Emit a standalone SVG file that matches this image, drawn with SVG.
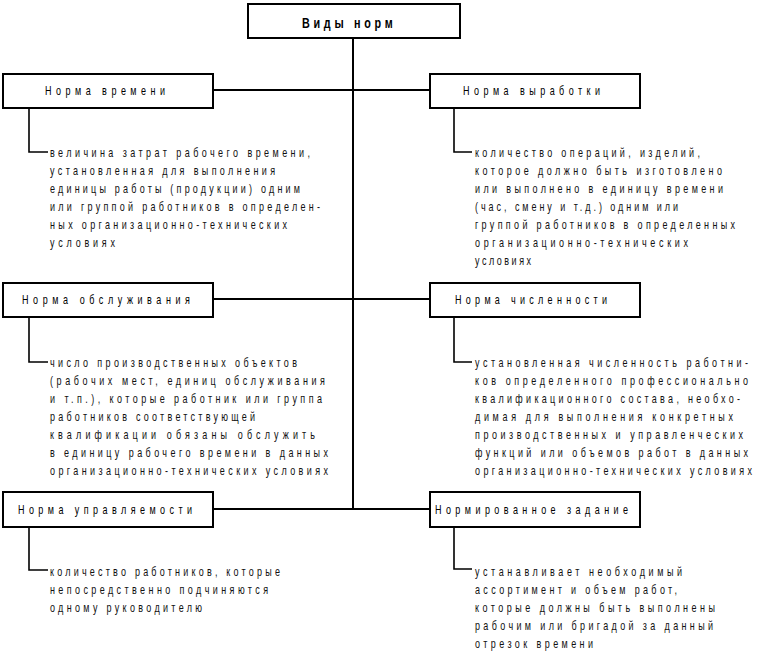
<svg xmlns="http://www.w3.org/2000/svg" width="763" height="655" viewBox="0 0 763 655">
<style>
.box{fill:#fff;stroke:#000;stroke-width:2}
.ln{fill:none;stroke:#000;stroke-width:2}
.cn{fill:none;stroke:#000;stroke-width:1.6}
text{font-family:"Liberation Sans Narrow","Liberation Sans",Arial,sans-serif;fill:#000}
.lbl{font-size:12.5px}
.body{font-size:12.5px;fill:#111}
.top{font-size:15px;font-weight:bold}
</style>
<rect width="763" height="655" fill="#fff"/>
<g id="connectors">
<path class="ln" d="M353,38 V509"/>
<path class="ln" d="M213,90 H430 M213,299 H430 M213,509 H430"/>
<path class="cn" d="M29,108 V152 H48"/>
<path class="cn" d="M454,108 V152 H472"/>
<path class="cn" d="M29,317 V362 H48"/>
<path class="cn" d="M454,317 V362 H472"/>
<path class="cn" d="M29,527 V570 H48"/>
<path class="cn" d="M454,527 V569 H472"/>
</g>
<g id="root">
<rect class="box" x="248" y="4" width="212" height="34"/>
<text class="top" transform="translate(302 28) scale(0.72 1)" textLength="126" lengthAdjust="spacing">Виды норм</text>
</g>
<g id="norma-vremeni">
<rect class="box" x="3" y="74" width="210" height="34"/>
<text class="lbl" transform="translate(45 95) scale(0.72 1)" textLength="166.7" lengthAdjust="spacing">Норма времени</text>
<text class="body" transform="translate(50 157) scale(0.72 1)" textLength="361.1" lengthAdjust="spacing">величина затрат рабочего времени,</text>
<text class="body" transform="translate(50 175) scale(0.72 1)" textLength="312.5" lengthAdjust="spacing">установленная для выполнения</text>
<text class="body" transform="translate(50 193) scale(0.72 1)" textLength="347.2" lengthAdjust="spacing">единицы работы (продукции) одним</text>
<text class="body" transform="translate(50 211) scale(0.72 1)" textLength="375" lengthAdjust="spacing">или группой работников в определен-</text>
<text class="body" transform="translate(50 229) scale(0.72 1)" textLength="329.2" lengthAdjust="spacing">ных организационно-технических</text>
<text class="body" transform="translate(50 247) scale(0.72 1)" textLength="90.3" lengthAdjust="spacing">условиях</text>
</g>
<g id="norma-vyrabotki">
<rect class="box" x="430" y="74" width="210" height="34"/>
<text class="lbl" transform="translate(463 95) scale(0.72 1)" textLength="190.3" lengthAdjust="spacing">Норма выработки</text>
<text class="body" transform="translate(475 157) scale(0.72 1)" textLength="312.5" lengthAdjust="spacing">количество операций, изделий,</text>
<text class="body" transform="translate(475 175) scale(0.72 1)" textLength="343.1" lengthAdjust="spacing">которое должно быть изготовлено</text>
<text class="body" transform="translate(475 193) scale(0.72 1)" textLength="344.4" lengthAdjust="spacing">или выполнено в единицу времени</text>
<text class="body" transform="translate(475 211) scale(0.72 1)" textLength="281.9" lengthAdjust="spacing">(час, смену и т.д.) одним или</text>
<text class="body" transform="translate(475 229) scale(0.72 1)" textLength="361.1" lengthAdjust="spacing">группой работников в определенных</text>
<text class="body" transform="translate(475 247) scale(0.72 1)" textLength="295.8" lengthAdjust="spacing">организационно-технических</text>
<text class="body" transform="translate(475 265) scale(0.72 1)" textLength="77.8" lengthAdjust="spacing">условиях</text>
</g>
<g id="norma-obsluzhivaniya">
<rect class="box" x="3" y="283" width="210" height="34"/>
<text class="lbl" transform="translate(22 304) scale(0.72 1)" textLength="233.3" lengthAdjust="spacing">Норма обслуживания</text>
<text class="body" transform="translate(50 367) scale(0.72 1)" textLength="343.1" lengthAdjust="spacing">число производственных объектов</text>
<text class="body" transform="translate(50 385) scale(0.72 1)" textLength="381.9" lengthAdjust="spacing">(рабочих мест, единиц обслуживания</text>
<text class="body" transform="translate(50 403) scale(0.72 1)" textLength="377.8" lengthAdjust="spacing">и т.п.), которые работник или группа</text>
<text class="body" transform="translate(50 421) scale(0.72 1)" textLength="284.7" lengthAdjust="spacing">работников соответствующей</text>
<text class="body" transform="translate(50 439) scale(0.72 1)" textLength="368.1" lengthAdjust="spacing">квалификации обязаны обслужить</text>
<text class="body" transform="translate(50 457) scale(0.72 1)" textLength="386.1" lengthAdjust="spacing">в единицу рабочего времени в данных</text>
<text class="body" transform="translate(50 475) scale(0.72 1)" textLength="386.1" lengthAdjust="spacing">организационно-технических условиях</text>
</g>
<g id="norma-chislennosti">
<rect class="box" x="430" y="283" width="210" height="34"/>
<text class="lbl" transform="translate(455 304) scale(0.72 1)" textLength="211.1" lengthAdjust="spacing">Норма численности</text>
<text class="body" transform="translate(475 367) scale(0.72 1)" textLength="379.2" lengthAdjust="spacing">установленная численность работни-</text>
<text class="body" transform="translate(475 385) scale(0.72 1)" textLength="379.2" lengthAdjust="spacing">ков определенного профессионально</text>
<text class="body" transform="translate(475 403) scale(0.72 1)" textLength="368.1" lengthAdjust="spacing">квалификационного состава, необхо-</text>
<text class="body" transform="translate(475 421) scale(0.72 1)" textLength="358.3" lengthAdjust="spacing">димая для выполнения конкретных</text>
<text class="body" transform="translate(475 439) scale(0.72 1)" textLength="372.2" lengthAdjust="spacing">производственных и управленческих</text>
<text class="body" transform="translate(475 457) scale(0.72 1)" textLength="379.2" lengthAdjust="spacing">функций или объемов работ в данных</text>
<text class="body" transform="translate(475 475) scale(0.72 1)" textLength="384.7" lengthAdjust="spacing">организационно-технических условиях</text>
</g>
<g id="norma-upravlyaemosti">
<rect class="box" x="3" y="492" width="210" height="35"/>
<text class="lbl" transform="translate(18 514) scale(0.72 1)" textLength="241.7" lengthAdjust="spacing">Норма управляемости</text>
<text class="body" transform="translate(50 576) scale(0.72 1)" textLength="319.4" lengthAdjust="spacing">количество работников, которые</text>
<text class="body" transform="translate(50 594) scale(0.72 1)" textLength="302.8" lengthAdjust="spacing">непосредственно подчиняются</text>
<text class="body" transform="translate(50 612) scale(0.72 1)" textLength="211.1" lengthAdjust="spacing">одному руководителю</text>
</g>
<g id="normirovannoe-zadanie">
<rect class="box" x="430" y="492" width="210" height="35"/>
<text class="lbl" transform="translate(435 514) scale(0.72 1)" textLength="268.1" lengthAdjust="spacing">Нормированное задание</text>
<text class="body" transform="translate(475 576) scale(0.72 1)" textLength="287.5" lengthAdjust="spacing">устанавливает необходимый</text>
<text class="body" transform="translate(475 594) scale(0.72 1)" textLength="280.6" lengthAdjust="spacing">ассортимент и объем работ,</text>
<text class="body" transform="translate(475 612) scale(0.72 1)" textLength="333.3" lengthAdjust="spacing">которые должны быть выполнены</text>
<text class="body" transform="translate(475 630) scale(0.72 1)" textLength="330.6" lengthAdjust="spacing">рабочим или бригадой за данный</text>
<text class="body" transform="translate(475 648) scale(0.72 1)" textLength="163.9" lengthAdjust="spacing">отрезок времени</text>
</g>
</svg>
